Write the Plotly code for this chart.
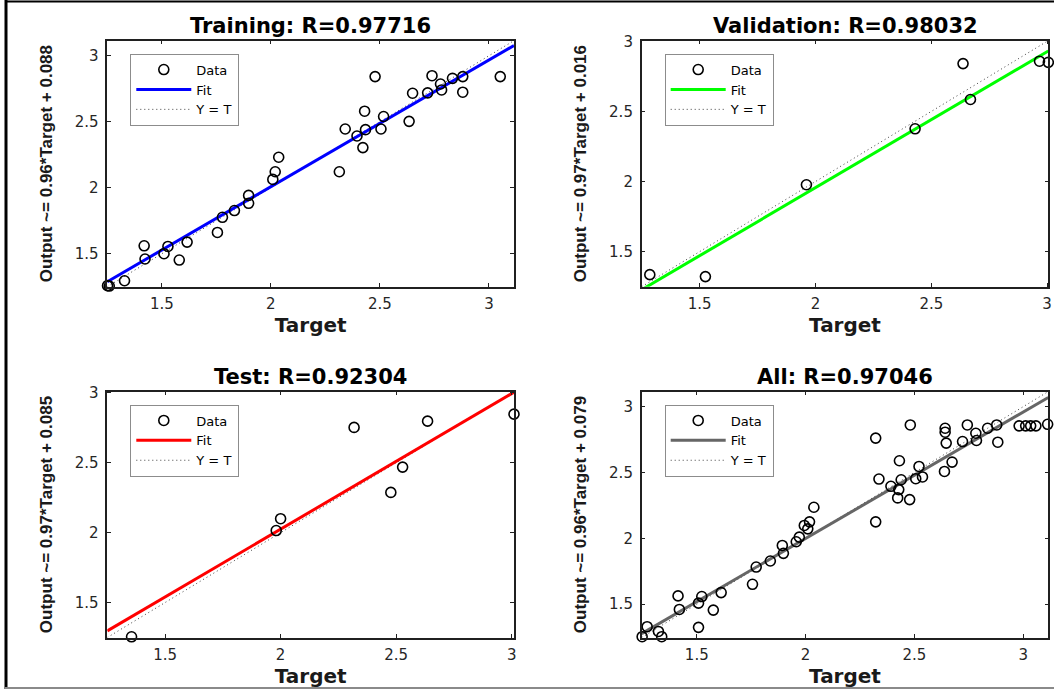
import plotly.graph_objects as go

W, H = 1054, 689

# ---------------- data ----------------
panel_names = ["Training", "Validation", "Test", "All"]
r_values = ["0.97716", "0.98032", "0.92304", "0.97046"]
fit_slopes = [0.96, 0.97, 0.97, 0.96]
fit_intercepts = [0.088, 0.016, 0.085, 0.079]
fit_colors = ["#0000FF", "#00FF00", "#FF0000", "#666666"]
axis_lo = [1.25, 1.25, 1.25, 1.247]
axis_hi = [3.115, 3.005, 3.01, 3.115]

train_target = [1.251, 1.259, 1.329, 1.419, 1.423, 1.510, 1.528, 1.580, 1.616,
                1.755, 1.778, 1.833, 1.898, 1.898, 2.009, 2.020, 2.036, 2.314,
                2.341, 2.395, 2.422, 2.430, 2.434, 2.478, 2.505, 2.517, 2.634,
                2.650, 2.719, 2.739, 2.778, 2.783, 2.833, 2.880, 2.880, 3.052, 3.117]
train_output = [1.258, 1.255, 1.295, 1.560, 1.460, 1.500, 1.555, 1.452, 1.588,
                1.661, 1.776, 1.827, 1.942, 1.882, 2.063, 2.121, 2.231, 2.121,
                2.445, 2.392, 2.304, 2.580, 2.440, 2.842, 2.445, 2.540, 2.503,
                2.716, 2.719, 2.849, 2.786, 2.741, 2.829, 2.842, 2.724, 2.842, 2.849]

val_target = [1.285, 1.525, 1.961, 2.430, 2.637, 2.669, 2.967, 3.005]
val_output = [1.336, 1.322, 1.977, 2.376, 2.841, 2.585, 2.858, 2.850]

test_target = [1.355, 1.981, 2.000, 2.318, 2.477, 2.528, 2.636, 3.010]
test_output = [1.255, 2.015, 2.100, 2.753, 2.288, 2.469, 2.798, 2.848]

all_target = [1.238, 1.249, 1.272, 1.324, 1.339, 1.414, 1.420, 1.508, 1.508, 1.523,
              1.576, 1.612, 1.756, 1.773, 1.838, 1.893, 1.898, 1.957, 1.971, 1.994,
              2.010, 2.018, 2.038, 2.322, 2.322, 2.337, 2.392, 2.423, 2.428, 2.431,
              2.439, 2.478, 2.481, 2.506, 2.521, 2.537, 2.638, 2.641, 2.641, 2.646,
              2.673, 2.721, 2.743, 2.782, 2.785, 2.836, 2.878, 2.883, 2.981, 3.011,
              3.034, 3.058, 3.112]
all_output = [1.268, 1.253, 1.329, 1.293, 1.253, 1.563, 1.460, 1.324, 1.508, 1.558,
              1.455, 1.588, 1.651, 1.782, 1.828, 1.946, 1.886, 1.974, 2.009, 2.098,
              2.072, 2.125, 2.236, 2.125, 2.761, 2.450, 2.395, 2.307, 2.370, 2.589,
              2.445, 2.294, 2.861, 2.453, 2.546, 2.466, 2.508, 2.836, 2.806, 2.723,
              2.579, 2.735, 2.861, 2.798, 2.743, 2.836, 2.861, 2.730, 2.854, 2.854,
              2.854, 2.854, 2.866]

targets = [train_target, val_target, test_target, all_target]
outputs = [train_output, val_output, test_output, all_output]

# ---------------- layout geometry (pixels -> paper) ----------------
col_px = [(107.3, 514.0), (641.7, 1048.3)]
row_px = [(40.6, 286.7), (391.5, 637.5)]

def xdom(c):
    return [col_px[c][0] / W, col_px[c][1] / W]

def ydom(r):
    return [1 - row_px[r][1] / H, 1 - row_px[r][0] / H]

fig = go.Figure()

legend_names = ["legend", "legend2", "legend3", "legend4"]
layout_extra = {}
annotations = []

for i in range(4):
    r, c = divmod(i, 2)
    sfx = "" if i == 0 else str(i + 1)
    xa, ya = "x" + sfx, "y" + sfx
    lo, hi = axis_lo[i], axis_hi[i]
    lg = legend_names[i]

    # Y = T reference line
    fig.add_trace(go.Scatter(
        x=[lo, hi], y=[lo, hi], mode="lines", name="Y = T",
        line=dict(color="#404040", width=1, dash="1px,3px"),
        xaxis=xa, yaxis=ya, legend=lg, legendrank=3, hoverinfo="skip"))
    # Fit line
    fx = [lo, hi]
    fy = [fit_slopes[i] * v + fit_intercepts[i] for v in fx]
    fig.add_trace(go.Scatter(
        x=fx, y=fy, mode="lines", name="Fit",
        line=dict(color=fit_colors[i], width=3),
        xaxis=xa, yaxis=ya, legend=lg, legendrank=2))
    # Data
    fig.add_trace(go.Scatter(
        x=targets[i], y=outputs[i], mode="markers", name="Data",
        marker=dict(symbol="circle-open", size=10, color="black",
                    line=dict(width=1.6, color="black")),
        cliponaxis=False,
        xaxis=xa, yaxis=ya, legend=lg, legendrank=1))

    common = dict(range=[lo, hi], showline=True, linecolor="#202020", linewidth=1.5,
                  mirror="ticks", ticks="inside", ticklen=4, tickwidth=1,
                  tickcolor="#202020", showgrid=False, zeroline=False,
                  dtick=0.5, tick0=0,
                  tickfont=dict(family="DejaVu Sans", size=15, color="#262626"))

    layout_extra["xaxis" + sfx] = dict(
        common, domain=xdom(c), anchor=ya, ticklabelstandoff=3,
        title=dict(text="Target", standoff=4,
                   font=dict(family="DejaVu Sans", size=20, color="#1a1a1a",
                             weight="bold")))
    layout_extra["yaxis" + sfx] = dict(
        common, domain=ydom(r), anchor=xa, ticklabelstandoff=4,
        title=dict(text="Output ~= %s*Target + %s" % (
            ("%.2f" % fit_slopes[i]), ("%.3f" % fit_intercepts[i])),
            standoff=18,
            font=dict(family="Liberation Sans", size=17, color="#1a1a1a",
                      weight="bold")))

    xd, yd = xdom(c), ydom(r)
    annotations.append(dict(
        text="%s: R=%s" % (panel_names[i], r_values[i]),
        xref="paper", yref="paper", x=(xd[0] + xd[1]) / 2,
        y=yd[1] + 14.7 / H, xanchor="center", yanchor="middle",
        showarrow=False,
        font=dict(family="DejaVu Sans", size=21, color="black", weight="bold")))

    layout_extra[lg] = dict(
        x=xd[0] + 23 / W, y=yd[1] - 13 / H, xanchor="left", yanchor="top",
        bgcolor="white", bordercolor="#8c8c8c", borderwidth=1,
        itemwidth=55, traceorder="normal",
        font=dict(family="DejaVu Sans", size=13, color="black"))

# figure frame
shapes = [
    dict(type="line", xref="paper", yref="paper", x0=6 / W, x1=6 / W, y0=0, y1=1,
         line=dict(color="black", width=3)),
    dict(type="line", xref="paper", yref="paper", x0=5 / W, x1=1, y0=1 - 1.5 / H,
         y1=1 - 1.5 / H, line=dict(color="black", width=2)),
    dict(type="line", xref="paper", yref="paper", x0=5 / W, x1=1, y0=1 - 688 / H,
         y1=1 - 688 / H, line=dict(color="#8a8a8a", width=2)),
]

fig.update_layout(
    width=W, height=H,
    margin=dict(l=0, r=0, t=0, b=0, autoexpand=False),
    paper_bgcolor="white", plot_bgcolor="white",
    showlegend=True,
    annotations=annotations,
    shapes=shapes,
    **layout_extra)

fig.write_html("out.html",
               config={"displayModeBar": False},
               post_script="document.body.style.margin='0';document.body.style.overflow='hidden';")
